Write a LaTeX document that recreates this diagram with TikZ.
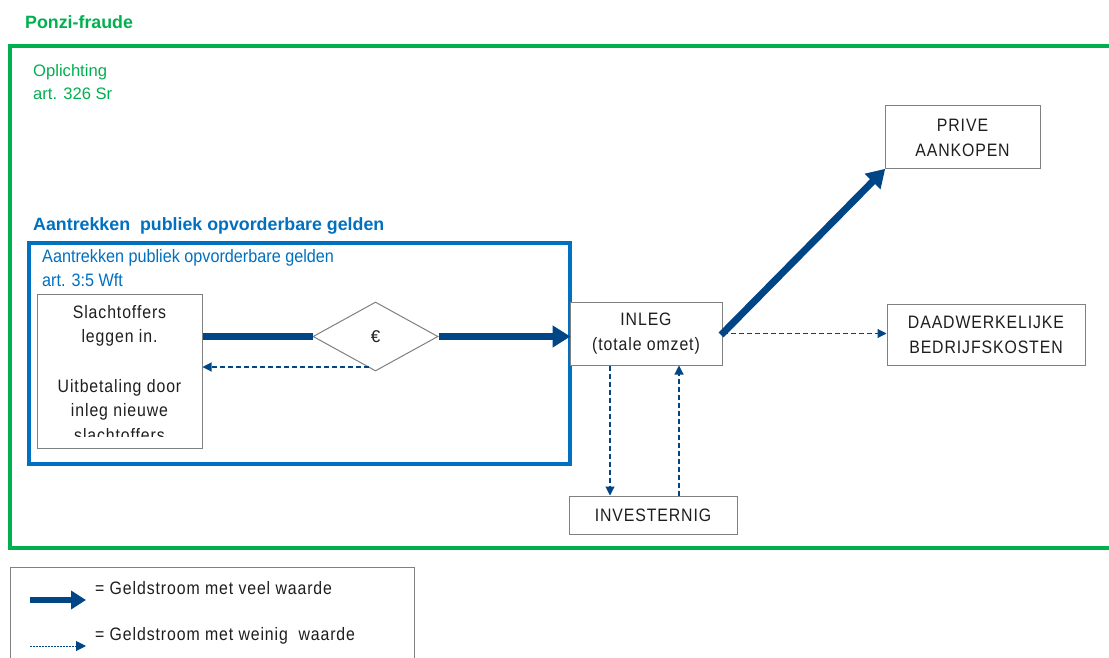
\documentclass[tikz,border=0pt]{standalone}
\usepackage{fontspec}
\setmainfont{Liberation Sans}
\newfontfamily\boxfont[FakeStretch=0.88, LetterSpace=5]{Liberation Sans}
\newfontfamily\narrowfont[FakeStretch=0.9]{Liberation Sans}
\usetikzlibrary{arrows.meta,shapes.geometric}
\definecolor{fraudgreen}{RGB}{0,176,80}
\definecolor{lawblue}{RGB}{0,112,192}
\definecolor{flownavy}{RGB}{0,69,134}
\definecolor{boxgray}{RGB}{128,128,128}
\definecolor{inktext}{RGB}{30,30,30}
\tikzset{
  flowbox/.style={draw=boxgray, line width=1pt, fill=white, inner sep=0pt,
    align=center, text=inktext, font=\boxfont\fontsize{18}{25}\selectfont},
  boxline/.style={anchor=base, inner sep=0pt, text=inktext,
    font=\boxfont\fontsize{18}{24}\selectfont},
  bigflow/.style={draw=flownavy, line width=7pt,
    -{Triangle[length=18pt,width=21pt]}, shorten >=-1pt},
  bigline/.style={draw=flownavy, line width=7pt},
  smallflow/.style={draw=flownavy, line width=1.1pt, dash pattern=on 5pt off 3pt,
    -{Triangle[length=9pt,width=9pt]}},
  headtext/.style={anchor=west, inner sep=0pt, font=\fontsize{17.8}{20}\bfseries\selectfont},
  notetext/.style={anchor=west, inner sep=0pt, font=\fontsize{16.6}{22}\selectfont},
  lawtext/.style={anchor=west, inner sep=0pt, text=lawblue, font=\narrowfont\fontsize{18}{22}\selectfont},
  legendtext/.style={anchor=west, inner sep=0pt, text=inktext, font=\boxfont\fontsize{18}{20}\selectfont}
}
\begin{document}
\begin{tikzpicture}[x=1pt, y=-1pt]
\clip (0,0) rectangle (1109,658);
\fill[white] (0,0) rectangle (1109,658);

% outer frame: fraud
\node[headtext, text=fraudgreen] (ponzi) at (25,22) {Ponzi-fraude};
\draw[fraudgreen, line width=4pt] (10,46) rectangle (1125,548);
\node[notetext, text=fraudgreen] (opl1) at (33,72) {Oplichting};
\node[notetext, text=fraudgreen] (opl2) at (33,94) {art. 326 Sr};

% inner frame: attracting repayable funds
\node[headtext, text=lawblue] (apg) at (33,226) {Aantrekken\ \ publiek opvorderbare\ gelden};
\draw[lawblue, line width=4pt] (29,243) rectangle (570,464);
\node[lawtext] (wft1) at (42,258) {Aantrekken publiek opvorderbare gelden};
\node[lawtext] (wft2) at (42,280) {art. 3:5 Wft};

% victims box with text cut off at the bottom
\node[flowbox, minimum width=165pt, minimum height=154pt] (victims) at (119.5,371) {};
\begin{scope}
  \clip (38,295) rectangle (201,436);
  \node[boxline] (vt1) at (119.5,318) {Slachtoffers};
  \node[boxline] (vt2) at (119.5,342) {leggen in.};
  \node[boxline] (vt3) at (119.5,392) {Uitbetaling door};
  \node[boxline] (vt4) at (119.5,416) {inleg nieuwe};
  \node[boxline] (vt5) at (119.5,441) {slachtoffers};
\end{scope}

% money diamond
\node[draw=boxgray, line width=1pt, fill=white, shape=diamond, aspect=1.8,
      minimum width=125pt, minimum height=69pt, inner sep=0pt,
      font=\fontsize{17}{20}\selectfont, text=inktext] (money) at (375.5,336.5) {€};

% targets
\node[flowbox, minimum width=152pt, minimum height=63pt] (inleg) at (646,333.5) {INLEG\\(totale omzet)};
\node[flowbox, minimum width=155pt, minimum height=63pt] (prive) at (962.5,137.5) {PRIVE\\AANKOPEN};
\node[flowbox, minimum width=198pt, minimum height=61pt] (daad) at (986,334.5) {DAADWERKELIJKE\\BEDRIJFSKOSTEN};
\node[flowbox, minimum width=168pt, minimum height=38pt] (invest) at (653,515) {INVESTERNIG};

% flows
\draw[bigline] (victims.east |- money.west) -- (money.west);
\draw[bigflow] (money.east) -- (money.east -| inleg.west);
\coordinate (backstart) at (369,367);
\draw[smallflow] (backstart) -- (backstart -| victims.east);
\draw[bigflow, shorten <=-2pt] (inleg.east) -- (prive.south west);
\draw[smallflow] (inleg.east) -- (inleg.east -| daad.west);
\coordinate (downx) at (610,0);
\coordinate (upx) at (679,0);
\draw[smallflow] (inleg.south -| downx) -- (invest.north -| downx);
\draw[smallflow] (invest.north -| upx) -- (inleg.south -| upx);

% legend
\draw[boxgray, line width=1pt] (10,567) rectangle (414,700);
\coordinate (lgA1) at (30,600);
\coordinate (lgA2) at (86,600);
\coordinate (lgB1) at (30,646);
\coordinate (lgB2) at (86,646);
\draw[draw=flownavy, line width=6pt, -{Triangle[length=15pt,width=18pt]}] (lgA1) -- (lgA2);
\draw[draw=flownavy, line width=1pt, dash pattern=on 2pt off 1pt, -{Triangle[length=10pt,width=10pt]}] (lgB1) -- (lgB2);
\node[legendtext] (lgtA) at (95,588) {= Geldstroom met veel waarde};
\node[legendtext] (lgtB) at (95,636) {= Geldstroom met weinig\ \ waarde};
\end{tikzpicture}
\end{document}
